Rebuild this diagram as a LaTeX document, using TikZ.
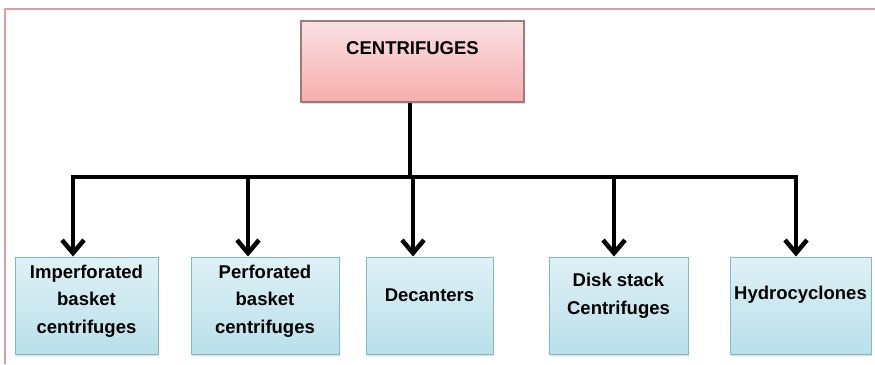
\documentclass[tikz,border=0pt]{standalone}
\usepackage{fontspec}
\setmainfont{Liberation Sans}
\usetikzlibrary{arrows.meta,shadows}
\definecolor{frame}{HTML}{D9A0A0}
\definecolor{pinktop}{HTML}{FBE1E3}
\definecolor{pinkbot}{HTML}{F8ADAD}
\definecolor{pinkline}{HTML}{A07A7A}
\definecolor{bluetop}{HTML}{DFF1F6}
\definecolor{bluebot}{HTML}{B9E0EA}
\definecolor{blueline}{HTML}{80BAC6}
\tikzset{
  topbox/.style={draw=pinkline, line width=1.2pt, top color=pinktop, bottom color=pinkbot,
    minimum width=223pt, minimum height=81pt, inner sep=0pt,
    drop shadow={shadow xshift=1pt, shadow yshift=-2pt, opacity=0.25}},
  leafbox/.style={draw=blueline, line width=1pt, top color=bluetop, bottom color=bluebot,
    minimum height=97pt, inner sep=0pt,
    drop shadow={shadow xshift=1pt, shadow yshift=-2pt, opacity=0.25}},
  lbl/.style={font=\bfseries\fontsize{18.5}{27.5}\selectfont, align=center, text=black},
  conn/.style={line width=4pt, black},
  tip/.style={-{Straight Barb[length=13pt,width=22pt,line width=4.5pt]}},
  tips/.style={{Straight Barb[length=13pt,width=22pt,line width=4.5pt]}-{Straight Barb[length=13pt,width=22pt,line width=4.5pt]}}
}
\begin{document}
\begin{tikzpicture}[x=1pt,y=-1pt]
\useasboundingbox (0,0) rectangle (875,364);
% frame
\draw[frame, line width=2pt] (5,364) -- (5,9) -- (875,9);
% top box
\node[topbox] (top) at (412.5,61.5) {};
\node[lbl, anchor=center] (toplbl) at (412.5,48) {CENTRIFUGES};
% leaf boxes
\node[leafbox, minimum width=143pt] (b1) at (86.5,305.5) {};
\node[leafbox, minimum width=148pt] (b2) at (265,305.5) {};
\node[leafbox, minimum width=127pt] (b3) at (429.5,305.5) {};
\node[leafbox, minimum width=139pt] (b4) at (618.5,305.5) {};
\node[leafbox, minimum width=141pt] (b5) at (800.5,305.5) {};
\node[lbl] (l1) at (86.5,301) {Imperforated\\basket\\centrifuges};
\node[lbl] (l2) at (265,301) {Perforated\\basket\\centrifuges};
\node[lbl] (l3) at (429.5,295) {Decanters};
\node[lbl] (l4) at (618.5,296) {Disk stack\\Centrifuges};
\node[lbl] (l5) at (800.5,295) {Hydrocyclones};
% bus coordinates
\coordinate (a1) at (73,177);
\coordinate (a2) at (248,177);
\coordinate (a3) at (413,177);
\coordinate (a4) at (614,177);
\coordinate (a5) at (796,177);
\coordinate (trunk) at (410,177);
% connectors
\draw[conn] (top.south -| trunk) -- (trunk);
\draw[conn, tips] (a1 |- b1.north) -- (a1) -- (a5) -- (a5 |- b5.north);
\draw[conn, tip] (a2) -- (a2 |- b2.north);
\draw[conn, tip] (a3) -- (a3 |- b3.north);
\draw[conn, tip] (a4) -- (a4 |- b4.north);
\end{tikzpicture}
\end{document}
